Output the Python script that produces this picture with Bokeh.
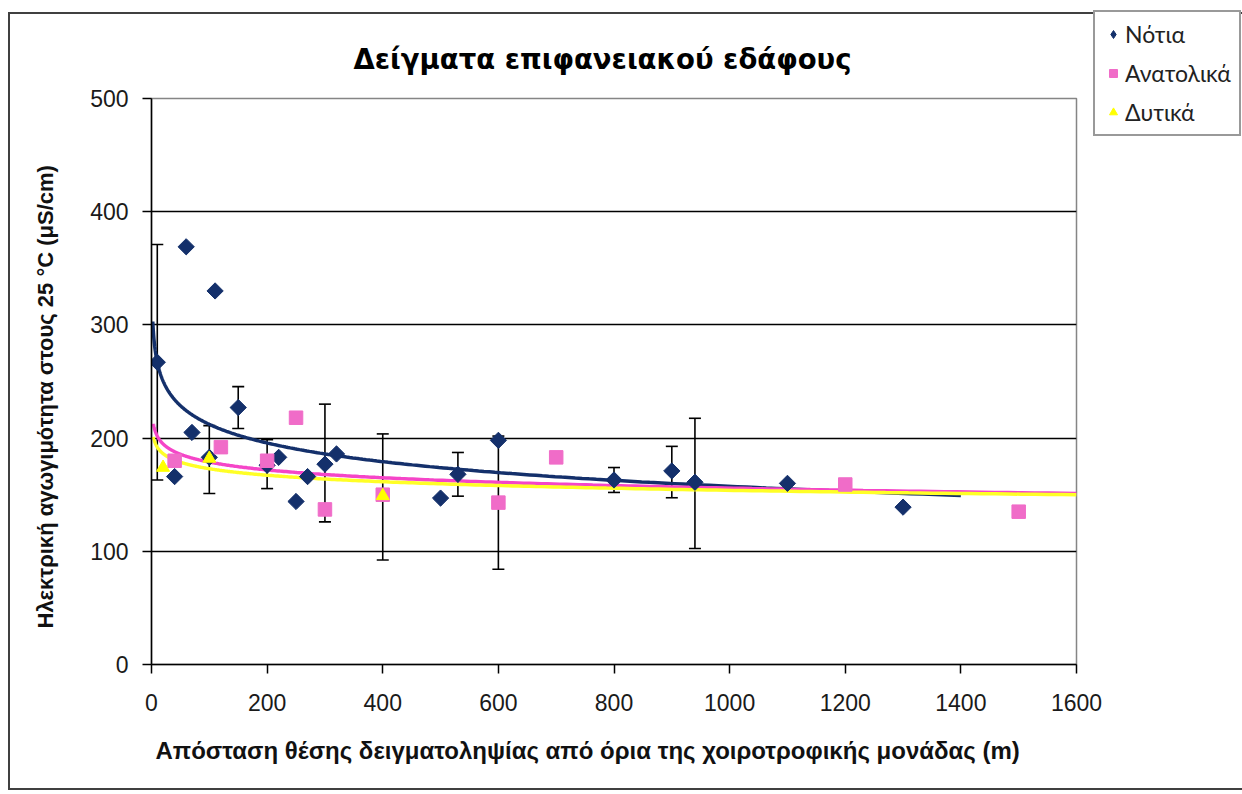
import numpy as np
from bokeh.plotting import figure
from bokeh.models import (ColumnDataSource, Range1d, SingleIntervalTicker, Whisker,
                          TeeHead, Legend, LegendItem, Title, InlineStyleSheet)
from bokeh.embed import file_html
from bokeh.resources import INLINE

# Distance of the sampling point from the unit boundary (m) and
# electrical conductivity at 25 °C (μS/cm), per direction
notia_x = [10, 40, 60, 70, 100, 110, 150, 200, 220, 250, 270, 300, 320,
           500, 530, 600, 800, 900, 940, 1100, 1300]
notia_y = [267, 166, 369, 205, 183, 330, 227, 176, 183, 144, 166, 177, 186,
           147, 168, 198, 163, 171, 161, 160, 139]

anat_x = [40, 120, 200, 250, 300, 400, 600, 700, 1200, 1500]
anat_y = [180, 192, 180, 218, 137, 150, 143, 183, 159, 135]

dyt_x = [20, 100, 400]
dyt_y = [174, 182, 149]

# Standard-deviation bars: position, mean, half-width
err_x = [10, 100, 150, 200, 300, 400, 530, 600, 800, 900, 940]
err_y = [267, 181, 227, 177, 178, 148, 168, 143, 163, 170, 160]
err_half = [104, 30, 18.5, 21.6, 52, 55.7, 19.3, 58.8, 11, 22.7, 57.5]

# Logarithmic trend lines y = a*ln(x) + b
trend_a = [-23.8, -10.0, -8.3]
trend_b = [321.8, 224.9, 211.2]
trend_x_start = [2.2, 3.4, 3.4]
trend_x_end = [1400, 1600, 1600]

series_names = ["Νότια", "Ανατολικά", "Δυτικά"]

x_ticks_step = 200
y_ticks_step = 100

NAVY = "#14306b"
PINK = "#f06cc8"
PINK_LINE = "#f545c8"
YELLOW = "#ffff00"
YELLOW_LINE = "#ffff26"

W, H = 1242, 794
LEFT, RIGHT, TOP, BOTTOM = 151, 166, 98, 130

p = figure(width=W, height=H, output_backend="svg", toolbar_location=None,
           x_range=Range1d(0, 1600), y_range=Range1d(0, 500),
           min_border_left=LEFT, min_border_right=RIGHT,
           min_border_top=TOP, min_border_bottom=BOTTOM)
p.background_fill_color = "white"
p.border_fill_color = "white"
p.outline_line_color = "#858585"
p.outline_line_width = 1.5

# outer chart border drawn around the whole canvas
p.stylesheets = [InlineStyleSheet(css="""
:host { position: relative; }
:host::after {
  content: ""; position: absolute; left: 8px; top: 12px;
  width: 1234px; height: 778px; box-sizing: border-box;
  border: 2px solid #404040; border-right: none;
  pointer-events: none; z-index: 5;
}
""")]

p.xgrid.visible = False
p.ygrid.grid_line_color = "black"
p.ygrid.grid_line_width = 1.5
p.ygrid.ticker = SingleIntervalTicker(interval=y_ticks_step)

for ax, step in ((p.xaxis[0], x_ticks_step), (p.yaxis[0], y_ticks_step)):
    ax.ticker = SingleIntervalTicker(interval=step)
    ax.minor_tick_line_color = None
    ax.axis_line_color = "black"
    ax.axis_line_width = 1.5
    ax.major_tick_line_color = "black"
    ax.major_tick_line_width = 1.5
    ax.major_tick_in = 0
    ax.major_tick_out = 9
    ax.major_label_text_font = "Liberation Sans"
    ax.major_label_text_font_size = "23px"
    ax.major_label_text_color = "#1a1a1a"
p.xaxis.major_label_standoff = 20
p.yaxis.major_label_standoff = 14

# trend lines
trend_colors = [NAVY, PINK_LINE, YELLOW_LINE]
for a, b, x0, x1, c in zip(trend_a, trend_b, trend_x_start, trend_x_end, trend_colors):
    xs = np.geomspace(x0, x1, 400)
    p.line(xs, a * np.log(xs) + b, line_color=c, line_width=3.5)

# error bars
err_src = ColumnDataSource(dict(
    x=err_x,
    lower=[m - h for m, h in zip(err_y, err_half)],
    upper=[m + h for m, h in zip(err_y, err_half)],
))
whisk = Whisker(source=err_src, base="x", lower="lower", upper="upper",
                dimension="height", line_color="black", line_width=1.6,
                level="underlay",
                upper_head=TeeHead(size=12, line_color="black", line_width=1.6),
                lower_head=TeeHead(size=12, line_color="black", line_width=1.6))
p.add_layout(whisk)

marker_styles = [
    dict(marker="square", angle=np.pi / 4, size=11.5, fill_color=NAVY, line_color=NAVY),
    dict(marker="square", size=13.5, fill_color=PINK, line_color=PINK),
    dict(marker="triangle", size=13, fill_color=YELLOW, line_color=YELLOW),
]
for xs, ys, st in zip((notia_x, anat_x, dyt_x), (notia_y, anat_y, dyt_y), marker_styles):
    p.scatter(xs, ys, **st)

p.title.text = "Δείγματα επιφανειακού εδάφους"
p.title.align = "left"
p.title.offset = 353 - LEFT
p.title.standoff = 48
p.title.text_font = "DejaVu Sans"
p.title.text_font_style = "bold"
p.title.text_font_size = "27.5px"
p.title.text_color = "black"

p.add_layout(Title(text="Απόσταση θέσης δειγματοληψίας  από  όρια  της  χοιροτροφικής  μονάδας  (m)",
                   align="left", offset=155 - LEFT, standoff=42,
                   text_font="Liberation Sans", text_font_style="bold",
                   text_font_size="24px", text_color="#111111"), "below")

p.add_layout(Title(text="Ηλεκτρική αγωγιμότητα στους  25 °C (μS/cm)",
                   align="left", offset=664 - 628, standoff=59,
                   text_font="Liberation Sans", text_font_style="bold",
                   text_font_size="22px", text_color="#111111"), "left")

# legend panel, laid over the right margin of the chart
lf = figure(width=RIGHT, height=H, output_backend="svg", toolbar_location=None,
            x_axis_type=None, y_axis_type=None, min_border=0,
            x_range=Range1d(0, 1), y_range=Range1d(0, 1))
lf.background_fill_alpha = 0
lf.border_fill_alpha = 0
lf.outline_line_color = None
lf.stylesheets = [InlineStyleSheet(css=f"""
:host {{ position: absolute !important; left: {W - RIGHT}px !important; top: 0px !important; z-index: 6; }}
""")]

# legend swatches: one sample each, kept outside the visible range
legend_markers = [dict(marker="diamond", size=13, fill_color=NAVY, line_color=NAVY),
                  marker_styles[1], marker_styles[2]]
items = []
for name, st in zip(series_names, legend_markers):
    r = lf.scatter(x=[-10], y=[-10], **st)
    items.append(LegendItem(label=name, renderers=[r]))

legend = Legend(items=items, location=(1093 - (W - RIGHT), H - 136))
legend.border_line_color = "#333333"
legend.border_line_width = 2
legend.background_fill_color = "white"
legend.background_fill_alpha = 1
legend.label_text_font = "Lato"
legend.label_text_font_size = "23px"
legend.label_text_color = "#222222"
legend.glyph_width = 20
legend.glyph_height = 22
legend.label_height = 22
legend.label_width = 105
legend.label_standoff = 2
legend.spacing = 11
legend.padding = 8
legend.margin = 0
lf.add_layout(legend)

open("out.html", "w").write(file_html([p, lf], INLINE))
